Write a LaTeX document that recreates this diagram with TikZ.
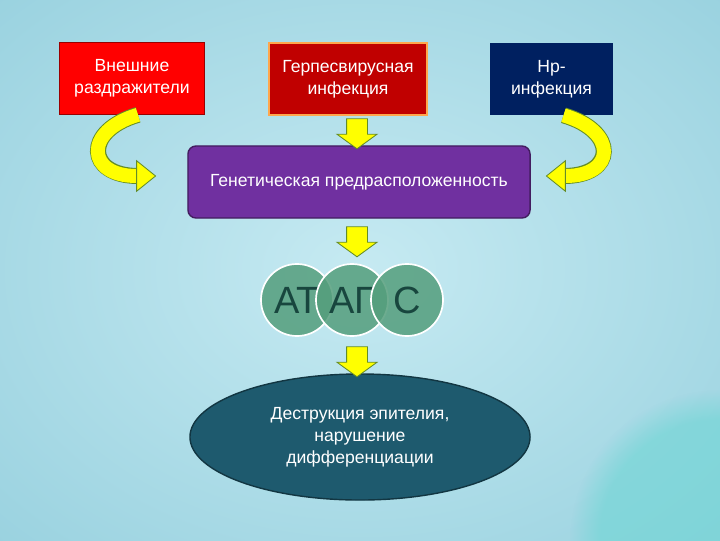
\documentclass[tikz,border=0pt]{standalone}
\usepackage{fontspec}
\setmainfont{Liberation Sans}
\usetikzlibrary{shapes.geometric, shapes.arrows, arrows.meta, positioning, calc, fadings}

\definecolor{bgtop}{RGB}{150,208,222}
\definecolor{bgmid}{RGB}{198,234,242}
\definecolor{bgcorner}{RGB}{110,214,212}
\definecolor{extred}{RGB}{255,0,0}
\definecolor{herpred}{RGB}{192,0,0}
\definecolor{hpnavy}{RGB}{0,32,96}
\definecolor{genpurple}{RGB}{112,48,160}
\definecolor{cellgreen}{RGB}{84,158,124}
\definecolor{celltext}{RGB}{24,70,62}
\definecolor{ellteal}{RGB}{30,90,110}
\definecolor{arrowyellow}{RGB}{255,255,0}
\definecolor{arrowedge}{RGB}{100,140,40}

\begin{document}
\begin{tikzpicture}[
    x=0.025cm, y=-0.025cm,
    font=\fontsize{12.5}{15.5}\selectfont,
    topbox/.style={rectangle, text=white, align=center, minimum height=1.8cm, inner sep=2pt},
    genbox/.style={rectangle, rounded corners=0.2cm, fill=genpurple, draw=genpurple!60!black, line width=1pt, text=white, minimum width=8.55cm, minimum height=1.8cm},
    cell/.style={circle, fill=cellgreen, fill opacity=0.85, text opacity=1, draw=white, line width=1.2pt, minimum size=1.8cm, text=celltext, font=\fontsize{27}{30}\selectfont},
    outcome/.style={ellipse, fill=ellteal, draw=ellteal!60!black, line width=1pt, text=white, align=center, minimum width=8.5cm, minimum height=3.15cm},
    downarrow/.style={single arrow, rotate=-90, fill=arrowyellow, draw=arrowedge, line width=0.6pt, inner sep=0pt, text height=0.25cm, text depth=0.25cm, single arrow head extend=0.24cm, single arrow tip angle=108, minimum height=0.75cm},
    bendarrow/.style={line width=0.35cm, draw=arrowyellow, preaction={draw=arrowedge, -, line width=0.4cm, shorten >=0.45cm},
        -{Triangle[width=0.8cm, length=0.5cm, fill=arrowyellow, color=arrowedge, line width=0.6pt]}},
]

% Background
\useasboundingbox (0,0) rectangle (720,540);
\clip (0,0) rectangle (720,540);
\fill[inner color=bgmid, outer color=bgtop] (-200,-150) rectangle (920,690);
\fill[bgcorner, opacity=0.6, path fading=circle with fuzzy edge 20 percent] (720,540) circle (150);

% Causes
\node[topbox, fill=extred, draw=red!60!black, minimum width=3.625cm] (ext) at (132,78.5) {Внешние\\раздражители};
\node[topbox, fill=herpred, draw=orange!70, line width=1pt, minimum width=3.95cm] (herp) at (348,79) {Герпесвирусная\\инфекция};
\node[topbox, fill=hpnavy, minimum width=3.075cm] (hp) at (551.5,79) {Hp-\\инфекция};

% Predisposition
\node[genbox] (gen) at (359,182) {Генетическая предрасположенность};

% Diseases
\node[cell] (at) at (297,300) {АТ};
\node[cell] (ag) at (352,300) {АГ};
\node[cell] (c) at (407,300) {С};

% Outcome
\node[outcome] (destr) at (360,437) {Деструкция эпителия,\\нарушение\\дифференциации};

% Block arrows
\node[downarrow] (a1) at (357,130) {};
\node[downarrow] (a2) at (357,238) {};
\node[downarrow] (a3) at (357,358) {};

% Curved arrows
\draw[bendarrow] ([xshift=0.15cm]ext.south) .. controls +(-55,16) and +(-70,0) .. ([xshift=-0.775cm, yshift=0.15cm]gen.west);
\draw[bendarrow] ([xshift=0.3cm]hp.south) .. controls +(55,16) and +(70,0) .. ([xshift=0.375cm, yshift=0.15cm]gen.east);

\end{tikzpicture}
\end{document}
